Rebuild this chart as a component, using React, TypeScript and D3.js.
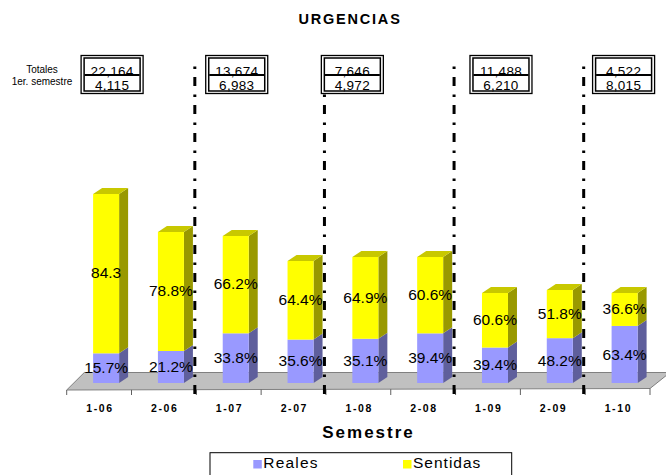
import React from 'react';
import * as d3 from 'd3';

// ---------- data ----------
const categories = ['1-06', '2-06', '1-07', '2-07', '1-08', '2-08', '1-09', '2-09', '1-10'];
const realesPct = [15.7, 21.2, 33.8, 35.6, 35.1, 39.4, 39.4, 48.2, 63.4];
const sentidasPct = [84.3, 78.8, 66.2, 64.4, 64.9, 60.6, 60.6, 51.8, 36.6];
const sentidasLabels = ['84.3', '78.8%', '66.2%', '64.4%', '64.9%', '60.6%', '60.6%', '51.8%', '36.6%'];
const realesLabels = ['15.7%', '21.2%', '33.8%', '35.6%', '35.1%', '39.4%', '39.4%', '48.2%', '63.4%'];
// relative bar volume (index, as drawn)
const barTotal = [189, 151, 147, 122, 126, 126, 90, 93, 90];

const boxCategory = ['1-06', '1-07', '1-08', '1-09', '1-10'];
const boxSentidas = [22164, 13674, 7646, 11488, 4522];
const boxReales = [4115, 6983, 4972, 6210, 8015];
const dividerAfter = ['2-06', '2-07', '2-08', '2-09'];

const seriesNames = ['Reales', 'Sentidas'];

// ---------- layout ----------
const W = 666;
const H = 475;
const FONT = '"Liberation Sans", Arial, sans-serif';
const boxNudge = [6, 1, -13, 6, -1];

const colors = {
  realFront: '#9999ff',
  realSide: '#5f5f9c',
  sentFront: '#ffff00',
  sentSide: '#999900',
  sentTop: '#c8c800',
  floor: '#c0c0c0',
  floorEdge: '#808080',
};

export default function App() {
  const x = d3.scaleBand<string>().domain(categories).range([66.7, 650]).paddingInner(0).paddingOuter(0);
  const y = d3.scaleLinear().domain([0, 200]).range([383, 183]);
  const fmt = d3.format(',');

  const barW = 26;
  const dx = 9;
  const dy = -6;
  const shift = 7;
  const floorFront = 390;
  const floorBack = 372.5;
  const fdx = 17.6;

  const x0 = x.range()[0];
  const x1 = x.range()[1];

  const floorPts = [
    [x0, floorFront],
    [x1, floorFront - 1.5],
    [x1 + 20, floorBack],
    [x0 + fdx, floorBack],
  ];

  const line = d3.line();

  const bars = categories.map((c, i) => {
    const cx = (x(c) as number) + x.bandwidth() / 2 + shift;
    const left = cx - barW / 2;
    const right = cx + barW / 2;
    const total = barTotal[i];
    const yBottom = y(0);
    const ySplit = y((total * realesPct[i]) / 100);
    const yTop = y(total);
    return { c, i, cx, left, right, yBottom, ySplit, yTop };
  });

  const ticks = d3.range(categories.length + 1).map((k) => x0 + k * x.step());

  return (
    <svg width={W} height={H} style={{ position: 'absolute', left: 0, top: 0, background: '#fff' }} fontFamily={FONT}>
      <rect x={0} y={0} width={W} height={H} fill="#fff" />
      {/* title */}
      <text x={350} y={23.5} textAnchor="middle" fontSize={14.5} fontWeight="bold" letterSpacing={1.8}>
        URGENCIAS
      </text>

      {/* floor */}
      <path d={line(floorPts as [number, number][]) + 'Z'} fill={colors.floor} stroke={colors.floorEdge} strokeWidth={1} />

      {/* axis ticks */}
      {ticks.map((t, k) => (
        <line key={k} x1={t} x2={t} y1={floorFront - (k / categories.length) * 1.5} y2={floorFront + 5} stroke="#606060" strokeWidth={1} />
      ))}

      {/* bars */}
      {bars.map((b) => (
        <g key={b.c}>
          <path
            d={`M${b.right},${b.yBottom}L${b.right + dx},${b.yBottom + dy}L${b.right + dx},${b.ySplit + dy}L${b.right},${b.ySplit}Z`}
            fill={colors.realSide}
          />
          <path
            d={`M${b.right},${b.ySplit}L${b.right + dx},${b.ySplit + dy}L${b.right + dx},${b.yTop + dy}L${b.right},${b.yTop}Z`}
            fill={colors.sentSide}
          />
          <path
            d={`M${b.left},${b.yTop}L${b.left + dx},${b.yTop + dy}L${b.right + dx},${b.yTop + dy}L${b.right},${b.yTop}Z`}
            fill={colors.sentTop}
          />
          <rect x={b.left} y={b.ySplit} width={barW} height={b.yBottom - b.ySplit} fill={colors.realFront} />
          <rect x={b.left} y={b.yTop} width={barW} height={b.ySplit - b.yTop} fill={colors.sentFront} />
        </g>
      ))}

      {/* dividers */}
      {dividerAfter.map((c) => {
        const xx = (x(c) as number) + x.step() - 1.5;
        return (
          <line
            key={c}
            x1={xx}
            x2={xx}
            y1={66.5}
            y2={397}
            stroke="#000"
            strokeWidth={3}
            strokeDasharray="2.5,8,9,8.5"
          />
        );
      })}

      {/* value labels */}
      {bars.map((b) => (
        <g key={'l' + b.c} fontSize={15.5} textAnchor="middle">
          <text x={b.cx} y={(b.yTop + b.ySplit) / 2} dy="0.3em">
            {sentidasLabels[b.i]}
          </text>
          <text x={b.cx} y={(b.ySplit + b.yBottom) / 2} dy="0.33em">
            {realesLabels[b.i]}
          </text>
        </g>
      ))}

      {/* category labels */}
      {categories.map((c) => (
        <text
          key={'c' + c}
          x={(x(c) as number) + x.bandwidth() / 2 + 0.8}
          y={412}
          textAnchor="middle"
          fontSize={10.5}
          fontWeight="bold"
          letterSpacing={1.6}
        >
          {c}
        </text>
      ))}

      {/* axis title */}
      <text x={368.5} y={438} textAnchor="middle" fontSize={17} fontWeight="bold" letterSpacing={2}>
        Semestre
      </text>

      {/* totals label */}
      <text x={42} y={73} textAnchor="middle" fontSize={10}>
        Totales
      </text>
      <text x={42} y={85} textAnchor="middle" fontSize={10}>
        1er. semestre
      </text>

      {/* totals boxes */}
      {boxCategory.map((c, k) => {
        const b = bars[categories.indexOf(c)];
        const bx = b.cx + boxNudge[k];
        const bw = 62;
        const bh = 38;
        const top = 55.5;
        return (
          <g key={'b' + c}>
            <rect x={bx - bw / 2} y={top} width={bw} height={bh} fill="#fff" stroke="#000" strokeWidth={1.3} />
            <rect x={bx - bw / 2 + 3} y={top + 2.5} width={bw - 6} height={bh - 5} fill="#fff" stroke="#000" strokeWidth={1.5} />
            <line x1={bx - bw / 2 + 3.5} x2={bx + bw / 2 - 3.5} y1={75} y2={75} stroke="#000" strokeWidth={2} />
            <text x={bx} y={75.5} textAnchor="middle" fontSize={13.5} letterSpacing={0.3}>
              {fmt(boxSentidas[k])}
            </text>
            <text x={bx} y={89.5} textAnchor="middle" fontSize={13.5} letterSpacing={0.3}>
              {fmt(boxReales[k])}
            </text>
          </g>
        );
      })}

      {/* legend */}
      <rect x={210} y={452.7} width={301.7} height={40} fill="#fff" stroke="#000" strokeWidth={1} />
      <rect x={253.3} y={460} width={8.5} height={8.5} fill={colors.realFront} />
      <text x={263.3} y={467.7} fontSize={15.5} letterSpacing={1.2}>
        {seriesNames[0]}
      </text>
      <rect x={403} y={460} width={8.5} height={8.5} fill={colors.sentFront} />
      <text x={413} y={467.7} fontSize={15.5} letterSpacing={1}>
        {seriesNames[1]}
      </text>
    </svg>
  );
}
